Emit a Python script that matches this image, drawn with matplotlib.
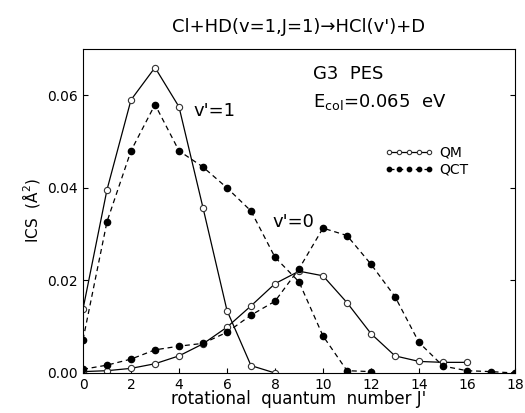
import matplotlib
matplotlib.use("Agg")
import matplotlib.pyplot as plt

J1_qm = list(range(0, 9))
v1_qm = [0.0138, 0.0396, 0.059, 0.066, 0.0575, 0.0357, 0.0135, 0.0016, 0.0]
J1_qct = list(range(0, 13))
v1_qct = [0.0072, 0.0327, 0.048, 0.058, 0.048, 0.0445, 0.040, 0.035, 0.025, 0.0197, 0.008, 0.0005, 0.0003]
J0_qm = list(range(0, 17))
v0_qm = [0.0003, 0.0005, 0.001, 0.002, 0.0037, 0.0063, 0.0099, 0.0145, 0.0193, 0.022, 0.021, 0.0152, 0.0085, 0.0037, 0.0025, 0.0023, 0.0023]
J0_qct = list(range(0, 19))
v0_qct = [0.0008, 0.0017, 0.003, 0.005, 0.0058, 0.0064, 0.0088, 0.0125, 0.0155, 0.0225, 0.0313, 0.0297, 0.0235, 0.0165, 0.0066, 0.0015, 0.0005, 0.0003, 0.0]

fig = plt.figure(figsize=(5.25, 4.13), dpi=100)
ax = fig.add_axes([83/525, 40/413, 432/525, 324/413])
kq = dict(color='black', lw=0.9, marker='o', ms=4.5, mfc='white', mec='#333333', mew=0.8)
kc = dict(color='black', lw=0.9, ls=(0, (4, 3)), marker='o', ms=4.5, mfc='black', mec='black')
ax.plot(J1_qm, v1_qm, **kq, label='QM')
ax.plot(J1_qct, v1_qct, **kc, label='QCT')
ax.plot(J0_qm, v0_qm, **kq)
ax.plot(J0_qct, v0_qct, **kc)
ax.set_xlim(0, 18)
ax.set_ylim(0, 0.07)
ax.set_xticks(range(0, 19, 2))
ax.set_yticks([0, 0.02, 0.04, 0.06])
ax.set_yticklabels(['0.00', '0.02', '0.04', '0.06'])
ax.tick_params(direction='in', right=True, top=False, labelsize=10)
ax.set_xlabel("rotational  quantum  number J'", fontsize=12, labelpad=-1)
ax.set_ylabel("ICS  ($\\mathrm{\\AA}^2$)", fontsize=11)
ax.set_title("Cl+HD(v=1,J=1)→HCl(v')+D", fontsize=13, pad=12)
ax.text(9.6, 0.0635, "G3  PES", fontsize=13)
ax.text(9.6, 0.0575, "E$_{\\mathrm{col}}$=0.065  eV", fontsize=13)
ax.text(4.6, 0.0555, "v'=1", fontsize=13)
ax.text(7.9, 0.0315, "v'=0", fontsize=13)
ax.legend(loc='upper right', bbox_to_anchor=(0.92, 0.74), frameon=False, fontsize=10,
          handlelength=3.5, numpoints=5, markerscale=0.7, handletextpad=0.4, labelspacing=0.2)
fig.savefig("out.png", dpi=100)
